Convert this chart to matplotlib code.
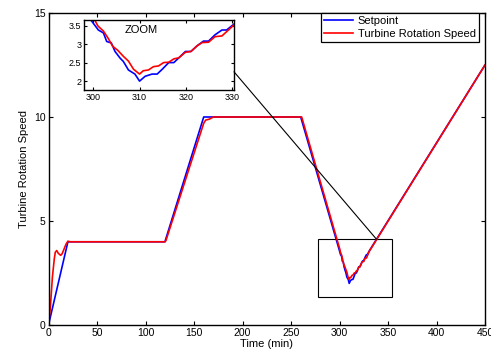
import matplotlib
matplotlib.use("Agg")
import matplotlib.pyplot as plt
from matplotlib.patches import Rectangle, ConnectionPatch

plt.rcParams['font.family'] = ['Liberation Sans', 'DejaVu Sans']

# setpoint (min, speed)
sp_t = [0, 20, 120, 160, 260,
        299.6, 301.1, 302.2, 302.9, 303.9, 304.7, 305.8, 306.5, 307.6, 309.0, 310.0,
        311.2, 312.7, 313.8, 314.9, 316.3, 317.4, 318.5, 319.9, 321.1, 322.4, 323.8,
        324.9, 326.3, 327.8, 328.8, 330.4, 450]
sp_v = [0, 4, 4, 10, 10,
        3.63, 3.38, 3.30, 3.07, 3.03, 2.80, 2.62, 2.53, 2.30, 2.19, 2.00,
        2.13, 2.19, 2.19, 2.32, 2.50, 2.50, 2.63, 2.80, 2.80, 2.95, 3.08,
        3.08, 3.25, 3.38, 3.38, 3.54, 12.5]

# measured turbine rotation speed
tr_t = [0, 2, 4, 6, 7, 8.5, 10, 12.5, 14, 16, 18, 20, 22, 120, 121, 160, 162, 166, 170, 261,
        300.4, 301.0, 302.2, 303.2, 304.2, 305.3, 306.5, 307.6, 308.7, 310.0,
        310.8, 311.9, 313.0, 314.1, 315.2, 316.3, 317.4, 318.5, 319.9, 321.1,
        322.4, 323.5, 324.9, 326.3, 327.8, 329.2, 330.4, 450]
tr_v = [0, 0.9, 2.3, 3.2, 3.5, 3.58, 3.45, 3.35, 3.42, 3.65, 3.88, 4.03, 4.0, 4.0, 4.05, 9.7, 9.85, 9.9, 10.0, 10.0,
        3.63, 3.49, 3.35, 3.16, 2.94, 2.83, 2.67, 2.54, 2.32, 2.19,
        2.28, 2.30, 2.39, 2.41, 2.50, 2.51, 2.60, 2.63, 2.78, 2.80,
        2.95, 3.04, 3.05, 3.20, 3.22, 3.38, 3.52, 12.5]

zoom_box = (278, 1.33, 354, 4.13)

fig = plt.figure(figsize=(4.91, 3.58), dpi=100)
ax = fig.add_axes([0.0988, 0.0922, 0.8890, 0.8715])
ax.plot(sp_t, sp_v, color='blue', lw=1.2, label='Setpoint')
ax.plot(tr_t, tr_v, color='red', lw=1.2, label='Turbine Rotation Speed')
ax.set_xlim(0, 450)
ax.set_ylim(0, 15)
ax.set_xticks(range(0, 451, 50))
ax.set_yticks([0, 5, 10, 15])
ax.tick_params(direction='in', top=True, right=True, labelsize=7.5, length=3, pad=2)
for s in ax.spines.values():
    s.set_linewidth(1.0)
ax.set_xlabel('Time (min)', fontsize=8, labelpad=1)
ax.set_ylabel('Turbine Rotation Speed', fontsize=8, labelpad=4)
leg = ax.legend(loc='upper right', bbox_to_anchor=(0.986, 1.0), fontsize=8,
                fancybox=False, framealpha=1, edgecolor='black',
                borderpad=0.3, labelspacing=0.2, handlelength=2.6, handletextpad=0.4,
                borderaxespad=0)
leg.get_frame().set_linewidth(0.9)

x0, y0, x1, y1 = zoom_box
ax.add_patch(Rectangle((x0, y0), x1 - x0, y1 - y0, fill=False, ec='black', lw=0.8))

ins = fig.add_axes([84 / 491, 1 - 90 / 358, 150 / 491, 70 / 358])
ins.plot(sp_t, sp_v, color='blue', lw=1.2)
ins.plot(tr_t, tr_v, color='red', lw=1.2)
ins.set_xlim(298, 330.4)
ins.set_ylim(1.76, 3.65)
ins.set_xticks([300, 310, 320, 330])
ins.set_yticks([2, 2.5, 3, 3.5])
ins.set_yticklabels(['2', '2.5', '3', '3.5'])
ins.tick_params(direction='in', top=True, right=True, labelsize=6.5, length=2.5, pad=2)
for s in ins.spines.values():
    s.set_linewidth(1.0)
ins.text(0.27, 0.86, 'ZOOM', transform=ins.transAxes, fontsize=8, va='center')

con = ConnectionPatch(xyA=(1.0, 0.26), coordsA=ins.transAxes,
                      xyB=(338, y1), coordsB=ax.transData, color='black', lw=0.8)
fig.add_artist(con)

fig.savefig('out.png', dpi=100)
